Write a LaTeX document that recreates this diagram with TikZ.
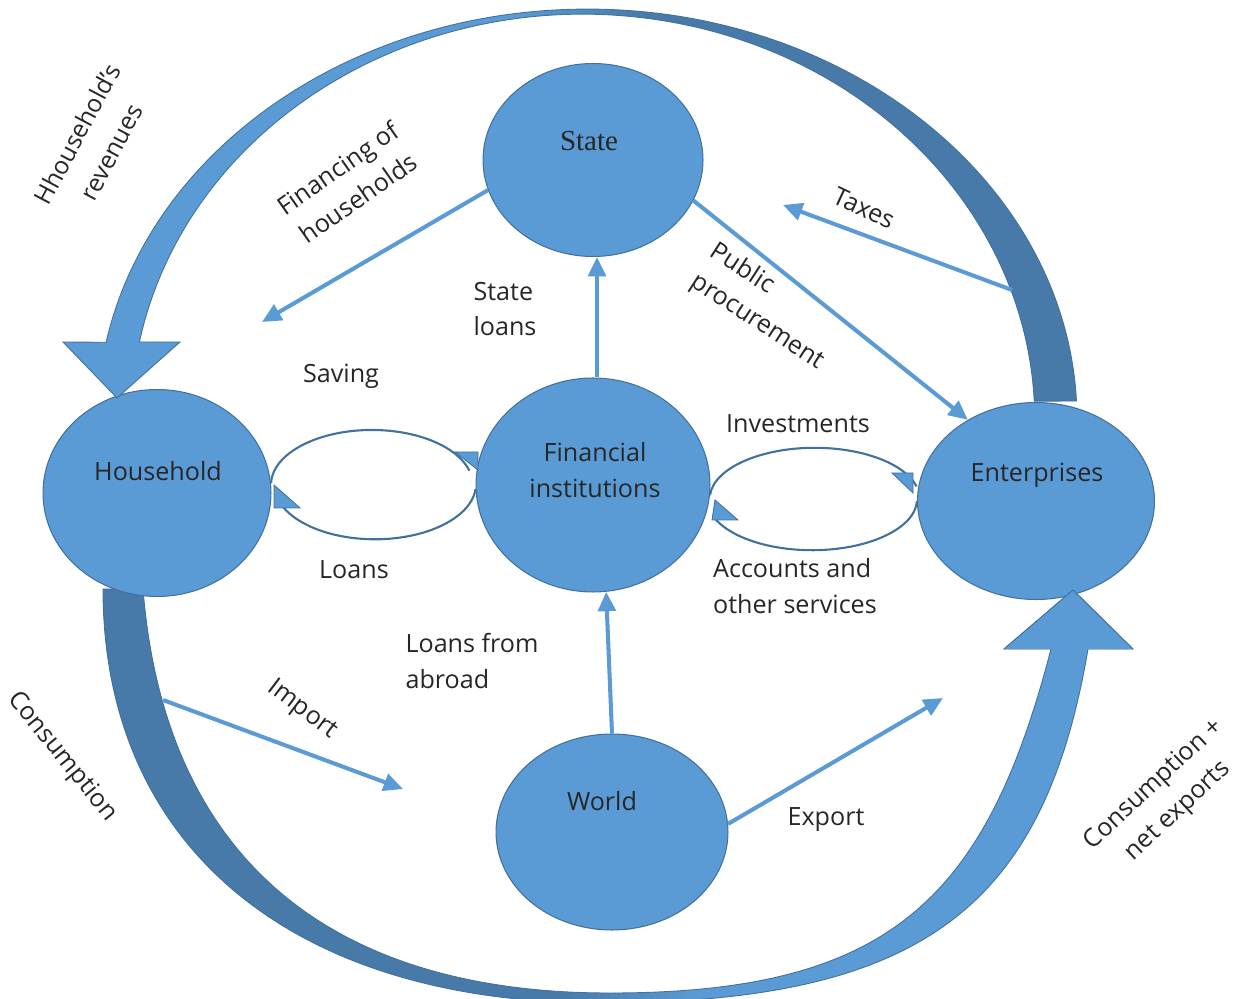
\documentclass[tikz,border=0pt]{standalone}
\usepackage{fontspec}
\setmainfont{Open Sans}
\newfontfamily\serifface{Liberation Serif}
\usetikzlibrary{shapes.geometric,arrows.meta}
\definecolor{lb}{RGB}{91,155,213}
\definecolor{db}{RGB}{71,122,168}
\definecolor{edge}{RGB}{65,113,156}
\definecolor{txt}{RGB}{38,38,38}
\pgfdeclarehorizontalshading{topgrad}{100bp}{color(0bp)=(lb); color(47bp)=(lb); color(54bp)=(db); color(100bp)=(db)}
\pgfdeclarehorizontalshading{botgrad}{100bp}{color(0bp)=(db); color(47bp)=(db); color(54bp)=(lb); color(100bp)=(lb)}
\tikzset{
  agent/.style={ellipse, fill=lb, draw=edge, line width=0.6pt, inner sep=0pt},
  lbl/.style={text=txt, font=\fontsize{14.3}{20.4}\selectfont, inner sep=1pt},
  flow/.style={draw=lb, line width=2.3pt, -{Triangle[length=11pt,width=10pt]}},
  loopline/.style={draw=edge, line width=1.2pt},
  loophead/.style={fill=lb, draw=edge, line width=0.5pt},
  bigarrow/.style={draw=edge, line width=0.5pt},
}
\begin{document}
\begin{tikzpicture}[x=0.02cm,y=-0.02cm]
\useasboundingbox (0,0) rectangle (1237,999);

% bottom big arc (consumption -> enterprises)
\shadedraw[bigarrow, shading=botgrad]
  (103,589) .. controls (103,846) and (292,1003) .. (600,1003)
  .. controls (920,1003) and (1044,909) .. (1088,649)
  -- (1133,649) -- (1073,590) -- (1004,649) -- (1051,649)
  .. controls (986,899) and (890,993) .. (610,993)
  .. controls (310,993) and (163,839) .. (143,589)
  -- cycle;

% agents
\node[agent, minimum width=4.4cm, minimum height=3.86cm] (state) at (593,160) {};
\node[agent, minimum width=4.68cm, minimum height=4.28cm] (fi) at (593,485) {};
\node[agent, minimum width=4.56cm, minimum height=4.14cm] (hh) at (157,493) {};
\node[agent, minimum width=4.74cm, minimum height=3.94cm] (ent) at (1036,501) {};
\node[agent, minimum width=4.64cm, minimum height=3.92cm] (world) at (612,832) {};

% redraw bottom arrowhead over enterprises
\fill[lb] (1004,649) -- (1073,590) -- (1133,649) -- cycle;
\draw[bigarrow] (1004,649) -- (1073,590) -- (1133,649);
\fill[lb] (1052,647) rectangle (1086,652);

% top big arc (household's revenues)
\shadedraw[bigarrow, shading=topgrad]
  (1076.5,401) arc[start angle=2.65, end angle=169.1, x radius=9.8cm, y radius=8.22cm]
  -- (63,342) -- (117,398) -- (180,342) -- (139.4,342)
  arc[start angle=168.9, end angle=2.68, x radius=9.04cm, y radius=8.12cm]
  -- cycle;

% node texts
\node[lbl, font=\serifface\fontsize{16.5}{20}\selectfont] (stateT) at (589,141) {State};
\node[lbl, align=center] (fiT) at (595,470) {Financial\\institutions};
\node[lbl] (hhT) at (158,471) {Household};
\node[lbl] (entT) at (1037,475) {Enterprises};
\node[lbl] (worldT) at (602,801) {World};

% loops between household / financial institutions
\draw[loopline] (hh.5) arc[start angle=178, end angle=15, x radius=2.02cm, y radius=1.1cm];
\draw[loopline] (fi.182) arc[start angle=-5, end angle=-160, x radius=2.02cm, y radius=1.1cm];
\draw[loophead] (455,452) -- (478,452) -- (478,470) -- cycle;
\draw[loophead] (274,485) -- (274,508) -- (300,508) -- cycle;

% loops between financial institutions / enterprises
\draw[loopline] (fi.-5) arc[start angle=176, end angle=14, x radius=2.1cm, y radius=1.02cm];
\draw[loopline] (ent.180) arc[start angle=-2, end angle=-160, x radius=2.1cm, y radius=1.02cm];
\draw[loophead] (892,473) -- (913,473) -- (913,493) -- cycle;
\draw[loophead] (712,520) -- (715,500) -- (738,520) -- cycle;

% flows
\coordinate (finEnd) at (262,322);
\draw[flow] (state.196) -- (finEnd);
\draw[flow] ([xshift=0.08cm]fi.north) -- ([xshift=0.08cm]state.south);
\draw[flow] (state.-22) -- (ent.130);
\coordinate (taxStart) at (1012,290);
\coordinate (taxEnd) at (783,205);
\draw[flow] (taxStart) -- (taxEnd);
\coordinate (impStart) at (163,700);
\coordinate (impEnd) at (403,789);
\draw[flow] (impStart) -- (impEnd);
\draw[flow] (world.north) -- (fi.-83);
\coordinate (expEnd) at (943,698);
\draw[flow] (world.4) -- (expEnd);

% labels
\node[lbl, align=center, rotate=62, font=\fontsize{14}{22}\selectfont] (revL) at (94,143) {Hhousehold’s\\revenues};
\node[lbl, align=center, rotate=35] (finL) at (348,183) {Financing of\\households};
\node[lbl, align=left] (slL) at (505,309) {State\\loans};
\node[lbl, align=left, rotate=-33] (ppL) at (767,307) {Public\\procurement};
\node[lbl, rotate=-25] (taxL) at (864,208) {Taxes};
\node[lbl] (savL) at (341,376) {Saving};
\node[lbl] (loanL) at (354,570) {Loans};
\node[lbl] (invL) at (798,424) {Investments};
\node[lbl, align=left] (accL) at (795,586) {Accounts and\\other services};
\node[lbl, align=left] (lfaL) at (472,661) {Loans from\\abroad};
\node[lbl, rotate=-37] (impL) at (302,710) {Import};
\node[lbl, rotate=-51] (conL) at (62,757) {Consumption};
\node[lbl] (expL) at (826,820) {Export};
\node[lbl, align=center, rotate=43] (cneL) at (1166,798) {Consumption +\\net exports};
\end{tikzpicture}
\end{document}
